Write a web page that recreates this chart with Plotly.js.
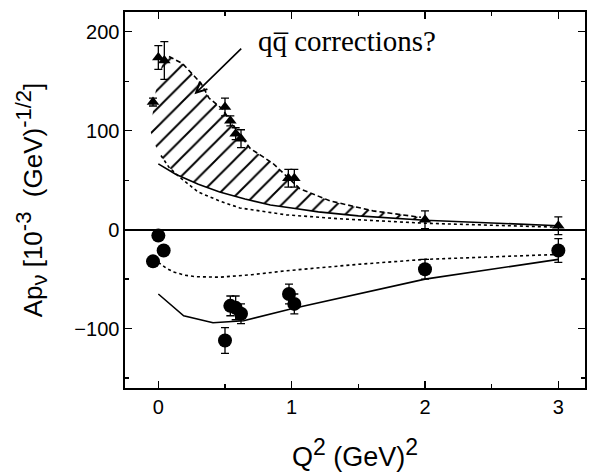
<!DOCTYPE html>
<html>
<head>
<meta charset="utf-8">
<script src="https://cdn.plot.ly/plotly-3.0.1.min.js"></script>
<style>html,body{margin:0;padding:0;background:#fff;}</style>
</head>
<body>
<div id="chart" style="width:589px;height:472px;"></div>
<script>
// Proton data (triangles)
const triX = [-0.04, 0.0, 0.045, 0.50, 0.54, 0.58, 0.62, 0.975, 1.02, 2.0, 3.0];
const triY = [129, 174, 171, 124, 110, 97, 92, 52, 52, 10, 4];
const triErr = [4, 12, 19, 9, 5, 6, 9, 9, 9, 9, 9];
// Neutron data (circles)
const cirX = [-0.04, 0.0, 0.04, 0.50, 0.54, 0.58, 0.62, 0.98, 1.02, 2.0, 3.0];
const cirY = [-32, -6, -21, -112, -77, -79, -85, -65, -75, -40, -21];
const cirErr = [2, 2, 2, 13, 10, 12, 10, 10, 10, 10, 12];
// Upper theory curves
const upSolidX = [0, 0.13, 0.3, 0.46, 0.65, 0.84, 1.0, 1.2, 1.5, 2.0, 3.0];
const upSolidY = [66.5, 56, 46, 38, 31, 25, 22, 18, 14, 9.5, 4];
const upDotX = [0.02, 0.08, 0.16, 0.3, 0.46, 0.61, 0.96, 1.36, 2.0, 3.0];
const upDotY = [75, 63, 53, 38, 29, 22, 15, 11, 6.5, 2.5];
const upDashX = [0.08, 0.18, 0.25, 0.32, 0.38, 0.48, 0.6, 0.69, 0.86, 1.06, 1.29, 1.61, 1.97];
const upDashY = [175, 168, 158, 148, 133, 122, 98, 82, 67, 41.5, 29, 19, 12.5];
// Hatched band (q-qbar corrections)
const hatchX = [-0.06, -0.02, 0.03, 0.08, 0.18, 0.25, 0.32, 0.38, 0.48, 0.6, 0.69, 0.86, 1.06, 1.29, 1.61, 1.97, 2.0,
                1.5, 1.2, 1.0, 0.84, 0.65, 0.46, 0.3, 0.13, 0.08, 0.01, -0.03, -0.06];
const hatchY = [100, 140, 168, 175, 168, 158, 148, 133, 122, 98, 82, 67, 41.5, 29, 19, 12.5, 9.5,
                14, 18, 22, 25, 31, 38, 46, 56, 63, 76, 87, 100];
// Lower theory curves
const loSolidX = [0, 0.19, 0.41, 0.64, 1.0, 2.0, 3.0];
const loSolidY = [-65, -87, -94, -92, -80, -50, -30];
const loDotX = [0, 0.06, 0.12, 0.2, 0.28, 0.46, 0.7, 0.96, 1.5, 2.0, 3.0];
const loDotY = [-33, -39, -43, -46, -47.5, -48, -45.5, -41.5, -35, -30, -25];

const BLK = '#000';
const traces = [
  {x: hatchX, y: hatchY, type: 'scatter', mode: 'lines', fill: 'toself',
   fillcolor: 'rgba(255,255,255,0)', line: {width: 0, color: 'rgba(0,0,0,0)'},
   fillpattern: {shape: '/', size: 13, solidity: 0.15, fgcolor: BLK, bgcolor: 'rgba(255,255,255,0)'},
   hoverinfo: 'skip'},
  {x: upSolidX, y: upSolidY, mode: 'lines', line: {color: BLK, width: 1.6}},
  {x: upDotX, y: upDotY, mode: 'lines', line: {color: BLK, width: 1.6, dash: 'dot'}},
  {x: upDashX, y: upDashY, mode: 'lines', line: {color: BLK, width: 1.6, dash: '5px,3px'}},
  {x: loSolidX, y: loSolidY, mode: 'lines', line: {color: BLK, width: 1.6}},
  {x: loDotX, y: loDotY, mode: 'lines', line: {color: BLK, width: 1.6, dash: 'dot'}},
  {x: triX, y: triY, mode: 'markers', marker: {symbol: 'triangle-up', size: 11, color: BLK},
   error_y: {type: 'data', array: triErr, visible: true, color: BLK, thickness: 1.3, width: 4}},
  {x: cirX, y: cirY, mode: 'markers', marker: {symbol: 'circle', size: 14, color: BLK},
   error_y: {type: 'data', array: cirErr, visible: true, color: BLK, thickness: 1.3, width: 4}}
];

const axisCommon = {
  showline: true, linecolor: BLK, linewidth: 1.6, mirror: 'allticks',
  ticks: 'inside', ticklen: 7, tickwidth: 1.4, tickcolor: BLK,
  showgrid: false,
  tickfont: {family: 'Liberation Sans, Arial, sans-serif', size: 20, color: BLK}
};

const layout = {
  width: 589, height: 472,
  margin: {l: 125, r: 4, t: 12, b: 84},
  paper_bgcolor: '#fff', plot_bgcolor: '#fff',
  showlegend: false,
  xaxis: Object.assign({}, axisCommon, {
    range: [-0.25, 3.2], tickvals: [0, 1, 2, 3], zeroline: false,
    minor: {dtick: 0.5, ticks: 'inside', ticklen: 4, tickwidth: 1.4, tickcolor: BLK, showgrid: false},
    title: {text: 'Q<sup><span style="font-size:23px">2</span></sup> (GeV)<sup><span style="font-size:23px">2</span></sup>',
            font: {family: 'Liberation Sans, Arial, sans-serif', size: 27, color: BLK}, standoff: 36}
  }),
  yaxis: Object.assign({}, axisCommon, {
    range: [-160, 220], tickvals: [-100, 0, 100, 200], zeroline: true, zerolinecolor: BLK, zerolinewidth: 1.8,
    minor: {dtick: 50, ticks: 'inside', ticklen: 4, tickwidth: 1.4, tickcolor: BLK, showgrid: false},
    title: {text: 'Ap<sub><span style="font-size:22px">ν</span></sub> [10<sup><span style="font-size:22px">-3</span></sup>  (GeV)<sup><span style="font-size:22px">-1/2</span></sup>]',
            font: {family: 'Liberation Sans, Arial, sans-serif', size: 26, color: BLK}, standoff: 24}
  }),
  annotations: [
    {x: 0.271, y: 136.8, ax: 0.633, ay: 184.4, axref: 'x', ayref: 'y', xref: 'x', yref: 'y',
     showarrow: true, arrowhead: 5, arrowsize: 1.3, arrowwidth: 1.6, arrowcolor: BLK, text: ''},
    {x: 0.73, y: 191, xref: 'x', yref: 'y', xanchor: 'left', yanchor: 'middle', showarrow: false,
     text: 'qq\u0305 corrections?', font: {family: 'Liberation Serif, Times New Roman, serif', size: 29, color: BLK}}
  ]
};

Plotly.newPlot('chart', traces, layout, {displayModeBar: false, staticPlot: true});
</script>
</body>
</html>
